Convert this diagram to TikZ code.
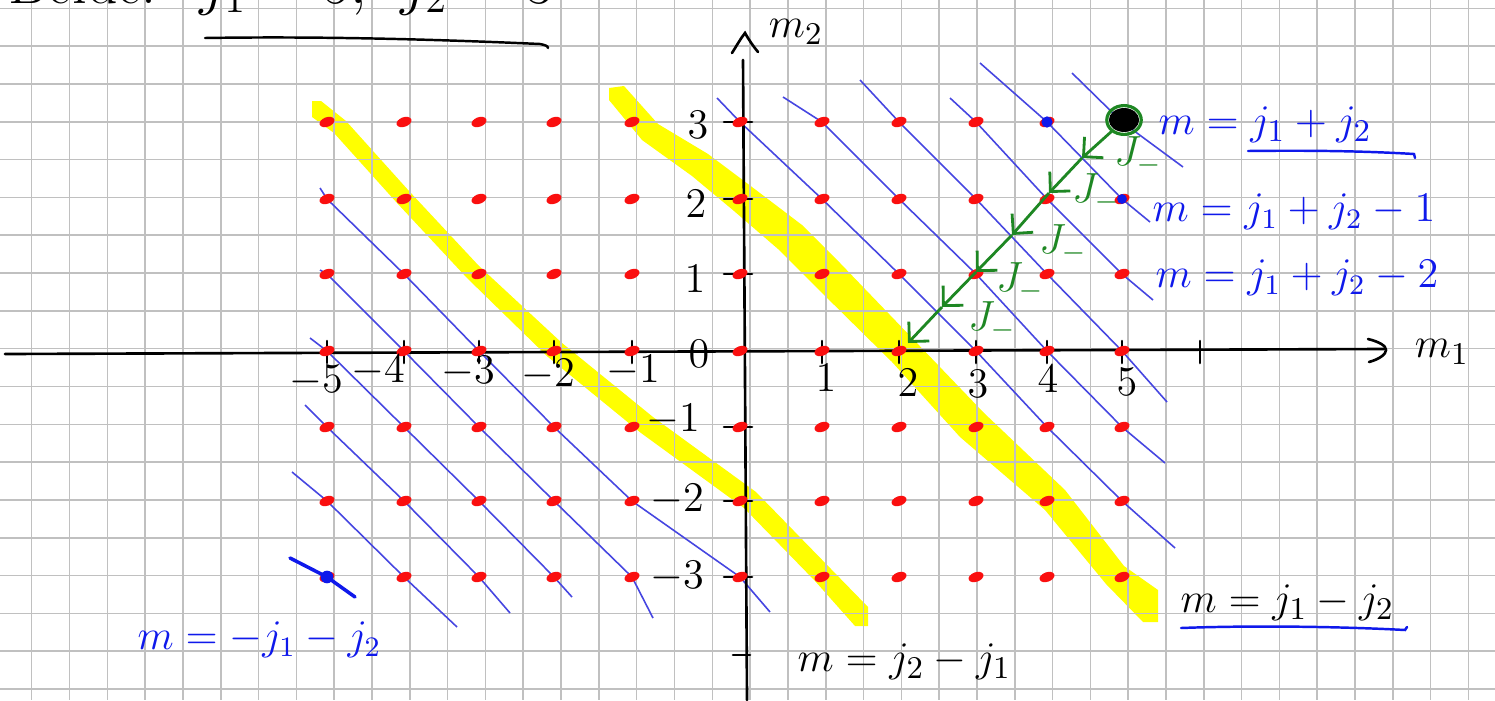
\documentclass[tikz,border=0pt]{standalone}
\usetikzlibrary{arrows.meta}
\definecolor{gridc}{RGB}{192,192,192}
\definecolor{dotred}{RGB}{250,15,15}
\definecolor{lineblue}{RGB}{70,70,225}
\definecolor{inkblue}{RGB}{15,25,235}
\definecolor{hl}{RGB}{255,255,0}
\definecolor{inkgreen}{RGB}{30,135,35}
\begin{document}
\begin{tikzpicture}[x=0.01cm,y=-0.01cm,
  gridline/.style={gridc,line width=0.45pt},
  hlband/.style={fill=hl},
  mline/.style={lineblue,line width=0.45pt,line join=round},
  axisline/.style={black,line width=0.75pt,line cap=round},
  ticklab/.style={font=\fontsize{11.5}{14}\selectfont,inner sep=0pt},
  bluelab/.style={inkblue,font=\fontsize{13}{15}\selectfont,inner sep=0pt},
  blacklab/.style={black,font=\fontsize{13}{15}\selectfont,inner sep=0pt},
  jlab/.style={inkgreen,font=\fontsize{12}{14}\selectfont,inner sep=0pt},
  jarrow/.style={inkgreen,line width=0.8pt,-{Straight Barb[length=4pt,width=8pt]}},
  titlelab/.style={black,font=\fontsize{17}{20}\selectfont,inner sep=0pt,anchor=base west},
]
\useasboundingbox (0,0) rectangle (1495,700);
\fill[white] (0,0) rectangle (1495,700);

% highlighter bands
\fill[hlband] (312,101) -- (321,101) -- (346,121) -- (409,191) -- (479,266) -- (562,343)
  -- (653,417) -- (756,492) -- (831,569) -- (868,607) -- (868,626) -- (855,626)
  -- (815,581) -- (744,508) -- (641,433) -- (548,357) -- (467,278) -- (397,203)
  -- (334,133) -- (312,117) -- cycle;
\fill[hlband] (609,88) -- (624,86) -- (658,124) -- (708,154) -- (752,187) -- (802,225)
  -- (840,263) -- (914,340) -- (984,413) -- (1065,490) -- (1124,566) -- (1158,590)
  -- (1158,622) -- (1143,622) -- (1106,584) -- (1045,510) -- (960,437) -- (892,362)
  -- (816,287) -- (778,249) -- (734,211) -- (692,176) -- (642,140) -- (609,100) -- cycle;

% grid paper
\foreach \k in {0,...,38} \draw[gridline] ({31.7+37.81*\k},0) -- ({31.7+37.81*\k},700);
\foreach \k in {0,...,18} \draw[gridline] (0,{8.3+37.82*\k}) -- (1495,{8.3+37.82*\k});

% lattice points
\foreach \mx/\px in {-5/327,-4/404,-3/479,-2/554,-1/632,0/740,1/822,2/899,3/976,4/1047,5/1122}
  \foreach \my/\py in {3/122,2/199,1/274,0/351,-1/427,-2/501,-3/577}
    \coordinate (p\mx\my) at (\px,\py);

% lines of constant m
\draw[mline] (1072,73) -- (p53) -- (1183,167);
\draw[mline] (980,63) -- (p43) -- (p52) -- (1150,222);
\draw[mline] (950,98) -- (p33) -- (p42) -- (p51) -- (1153,300);
\draw[mline] (860,80) -- (p23) -- (p32) -- (p41) -- (p50) -- (1167,402);
\draw[mline] (783,97) -- (p13) -- (p22) -- (p31) -- (p40) -- (p5-1) -- (1165,463);
\draw[mline] (717,98) -- (p03) -- (p12) -- (p21) -- (p30) -- (p4-1) -- (p5-2) -- (1175,548);
\draw[mline] (320,188) -- (p-52) -- (p-41) -- (p-30) -- (p-2-1) -- (p-1-2) -- (p0-3) -- (770,612);
\draw[mline] (320,270) -- (p-51) -- (p-40) -- (p-3-1) -- (p-2-2) -- (p-1-3) -- (653,618);
\draw[mline] (310,338) -- (p-50) -- (p-4-1) -- (p-3-2) -- (p-2-3) -- (572,597);
\draw[mline] (305,405) -- (p-5-1) -- (p-4-2) -- (p-3-3) -- (510,613);
\draw[mline] (292,472) -- (p-5-2) -- (p-4-3) -- (457,627);
\draw[inkblue,line width=1pt,line cap=round] (290,558) -- (p-5-3) -- (355,597);

% axes
\coordinate (xa0) at (5,354);
\coordinate (xa1) at (1384,349);
\draw[axisline] (xa0) -- (xa1);
\draw[axisline] (1368,339) .. controls (1380,342) and (1386,346) .. (1386,350)
  .. controls (1386,354) and (1380,359) .. (1369,362);
\coordinate (ya0) at (747,700);
\coordinate (ya1) at (743,60);
\draw[axisline] (ya0) -- (ya1);
\draw[axisline] (732,53) .. controls (737,45) and (741,38) .. (745,33)
  .. controls (749,40) and (753,46) .. (758,52);
\foreach \px in {327,404,479,554,632,822,899,976,1047,1122,1200}
  \draw[axisline] (\px,341) -- (\px,363);
\foreach \py in {122,199,274,427,501,577}
  \draw[axisline] (724,\py) -- (752,\py);
\draw[axisline] (733,655) -- (750,655);

% lattice dots
\foreach \mx in {-5,...,5}
  \foreach \my in {-3,...,3}
    \fill[dotred, rotate around={20:(p\mx\my)}] (p\mx\my) ellipse [x radius=2.2pt, y radius=1.35pt];
\fill[inkblue] (p43) circle [radius=1.6pt];
\fill[inkblue] (p52) circle [radius=1.4pt];
\fill[inkblue] (p-5-3) circle [radius=1.8pt];

% tick labels
\node[ticklab] (tx-5) at (316,381) {$-5$};
\node[ticklab] (tx-4) at (378,371) {$-4$};
\node[ticklab] (tx-3) at (468,372) {$-3$};
\node[ticklab] (tx-2) at (548,375) {$-2$};
\node[ticklab] (tx-1) at (633,371) {$-1$};
\node[ticklab] (tx0) at (699,354) {$0$};
\node[ticklab] (tx1) at (826,378) {$1$};
\node[ticklab] (tx2) at (908,383) {$2$};
\node[ticklab] (tx3) at (978,384) {$3$};
\node[ticklab] (tx4) at (1048,379) {$4$};
\node[ticklab] (tx5) at (1127,382) {$5$};
\node[ticklab] (ty3) at (698,125) {$3$};
\node[ticklab] (ty2) at (696,204) {$2$};
\node[ticklab] (ty1) at (695,279) {$1$};
\node[ticklab] (ty-1) at (673,420) {$-1$};
\node[ticklab] (ty-2) at (677,500) {$-2$};
\node[ticklab] (ty-3) at (677,577) {$-3$};
\node[blacklab] (mx) at (1442,352) {$m_1$};
\node[blacklab] (my) at (796,32) {$m_2$};

% title (cut off at the top, as in the reference)
\node[titlelab] (t1) at (8,3) {Beide:};
\node[titlelab] (t2) at (199,3) {$j_1 =$};
\node[titlelab] (t3) at (322,3) {$5,$};
\node[titlelab] (t4) at (400,3) {$j_2 = 3$};
\draw[black,line width=0.7pt,line cap=round] (205,38) .. controls (330,36) and (450,40) .. (540,44)
  .. controls (545,45) and (548,46) .. (548,48);

% labels of the lines
\node[bluelab,anchor=west] (lmax) at (1158,125) {$m = j_1 + j_2$};
\draw[inkblue,line width=0.7pt,line cap=round] (1248,151) .. controls (1330,150) and (1380,152) .. (1414,154) -- (1415,158);
\node[bluelab,anchor=west,font=\fontsize{12}{14}\selectfont] (lm1) at (1152,212) {$m = j_1 + j_2 - 1$};
\node[bluelab,anchor=west,font=\fontsize{12}{14}\selectfont] (lm2) at (1155,278) {$m = j_1 + j_2 - 2$};
\node[bluelab,anchor=west,font=\fontsize{11.5}{14}\selectfont] (lmin) at (137,640) {$m = -j_1 - j_2$};
\node[blacklab,anchor=west] (ldiff) at (797,662) {$m = j_2 - j_1$};
\node[blacklab,anchor=west,font=\fontsize{12.5}{15}\selectfont] (ldiff2) at (1180,603) {$m = j_1 - j_2$};
\draw[inkblue,line width=0.7pt,line cap=round] (1181,628) .. controls (1260,625) and (1350,627) .. (1405,630) -- (1407,627);

% lowering steps
\coordinate (g0) at (1112,131);
\coordinate (g1) at (1082,158);
\coordinate (g2) at (1049,193);
\coordinate (g3) at (1012,235);
\coordinate (g4) at (976,272);
\coordinate (g5) at (942,307);
\coordinate (g6) at (908,343);
\draw[jarrow] (g0) -- (g1);
\draw[jarrow] (g1) -- (g2);
\draw[jarrow] (g2) -- (g3);
\draw[jarrow] (g3) -- (g4);
\draw[jarrow] (g4) -- (g5);
\draw[jarrow] (g5) -- (g6);
\node[jlab] (j1) at (1138,156) {$J_-$};
\node[jlab] (j2) at (1096,193) {$J_-$};
\node[jlab] (j3) at (1063,244) {$J_-$};
\node[jlab] (j4) at (1020,282) {$J_-$};
\node[jlab] (j5) at (992,321) {$J_-$};
\fill[black] (1124,120) ellipse [x radius=4.3pt, y radius=3.4pt];
\draw[inkgreen,line width=0.9pt] (1124,120) ellipse [x radius=4.9pt, y radius=4.1pt];
\end{tikzpicture}
\end{document}
